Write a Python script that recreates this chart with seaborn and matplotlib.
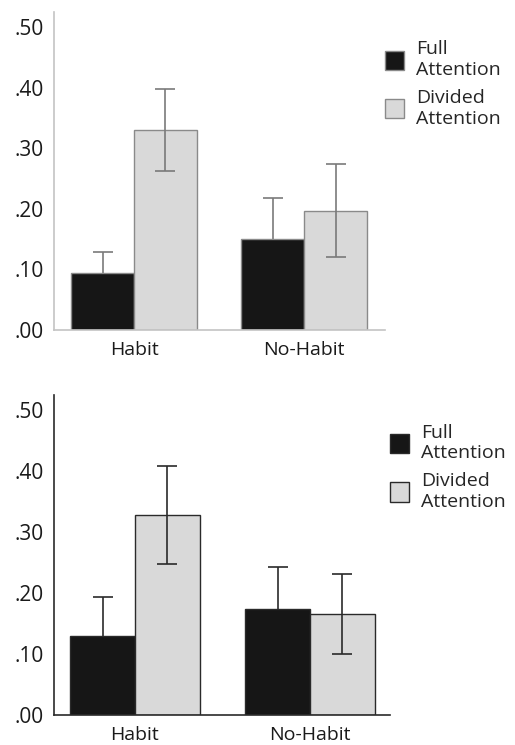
import pandas as pd
import matplotlib.pyplot as plt
import seaborn as sns

conditions = ['Habit', 'No-Habit']
attention = ['Full\nAttention', 'Divided\nAttention']

top_full = [0.094, 0.150]
top_divided = [0.330, 0.197]
top_full_err = [0.035, 0.068]
top_divided_err = [0.068, 0.077]

bottom_full = [0.130, 0.174]
bottom_divided = [0.328, 0.166]
bottom_full_err = [0.063, 0.068]
bottom_divided_err = [0.080, 0.066]

yticks = [0.0, 0.1, 0.2, 0.3, 0.4, 0.5]
ytick_labels = ['.00', '.10', '.20', '.30', '.40', '.50']

palette = ['#161616', '#d9d9d9']


def make_df(full, divided):
    rows = []
    for c, f, d in zip(conditions, full, divided):
        rows.append({'condition': c, 'attention': attention[0], 'value': f})
        rows.append({'condition': c, 'attention': attention[1], 'value': d})
    return pd.DataFrame(rows)


def draw_panel(ax, full, divided, full_err, divided_err, line_color, edge_color,
               err_color, xlim, legend_anchor):
    df = make_df(full, divided)
    sns.barplot(data=df, x='condition', y='value', hue='attention',
                hue_order=attention, order=conditions, palette=palette,
                width=0.74, gap=0, errorbar=None, saturation=1,
                edgecolor=edge_color, linewidth=1.0, ax=ax, zorder=2)

    # barras de erro posicionadas a partir das barras desenhadas
    bars = [p for p in ax.patches if p.get_height() > 0]
    n = len(conditions)
    full_bars, div_bars = bars[:n], bars[n:2 * n]
    fx = [p.get_x() + p.get_width() / 2 for p in full_bars]
    dx = [p.get_x() + p.get_width() / 2 for p in div_bars]
    ax.errorbar(fx, full, yerr=full_err, fmt='none', ecolor=err_color,
                elinewidth=1.2, capsize=7, capthick=1.2, zorder=1)
    ax.errorbar(dx, divided, yerr=divided_err, fmt='none', ecolor=err_color,
                elinewidth=1.2, capsize=7, capthick=1.2, zorder=3)

    ax.set_ylim(0, 0.525)
    ax.set_xlim(*xlim)
    ax.set_yticks(yticks)
    ax.set_yticklabels(ytick_labels)
    ax.set_xlabel('')
    ax.set_ylabel('')
    sns.despine(ax=ax)
    for s in ['left', 'bottom']:
        ax.spines[s].set_color(line_color)
        ax.spines[s].set_linewidth(1.2)
    ax.tick_params(axis='both', colors=line_color, length=6, width=1.2,
                   labelcolor='#1a1a1a', labelsize=14, pad=2)
    ax.tick_params(axis='y', labelsize=15, pad=1.5)

    sns.move_legend(ax, loc='upper left', bbox_to_anchor=legend_anchor,
                    frameon=False, title=None, fontsize=14,
                    handlelength=1.0, handleheight=1.15, handletextpad=0.6,
                    labelspacing=0.5, borderaxespad=0)


def main():
    sns.set_style('white')
    plt.rcParams['font.family'] = ['Open Sans', 'DejaVu Sans']

    fig = plt.figure(figsize=(5.15, 7.45), dpi=100)
    ax1 = fig.add_axes([0.1049, 0.557, 0.643, 0.427])
    ax2 = fig.add_axes([0.1049, 0.0403, 0.652, 0.4295])

    draw_panel(ax1, top_full, top_divided, top_full_err, top_divided_err,
               line_color='#c4c4c4', edge_color='#8a8a8a', err_color='#7a7a7a',
               xlim=(-0.47, 1.476), legend_anchor=(0.975, 0.935))
    draw_panel(ax2, bottom_full, bottom_divided, bottom_full_err,
               bottom_divided_err, line_color='#2a2a2a', edge_color='#2a2a2a',
               err_color='#2a2a2a', xlim=(-0.463, 1.457),
               legend_anchor=(0.976, 0.935))

    fig.savefig('out.png', dpi=100)


if __name__ == '__main__':
    main()
